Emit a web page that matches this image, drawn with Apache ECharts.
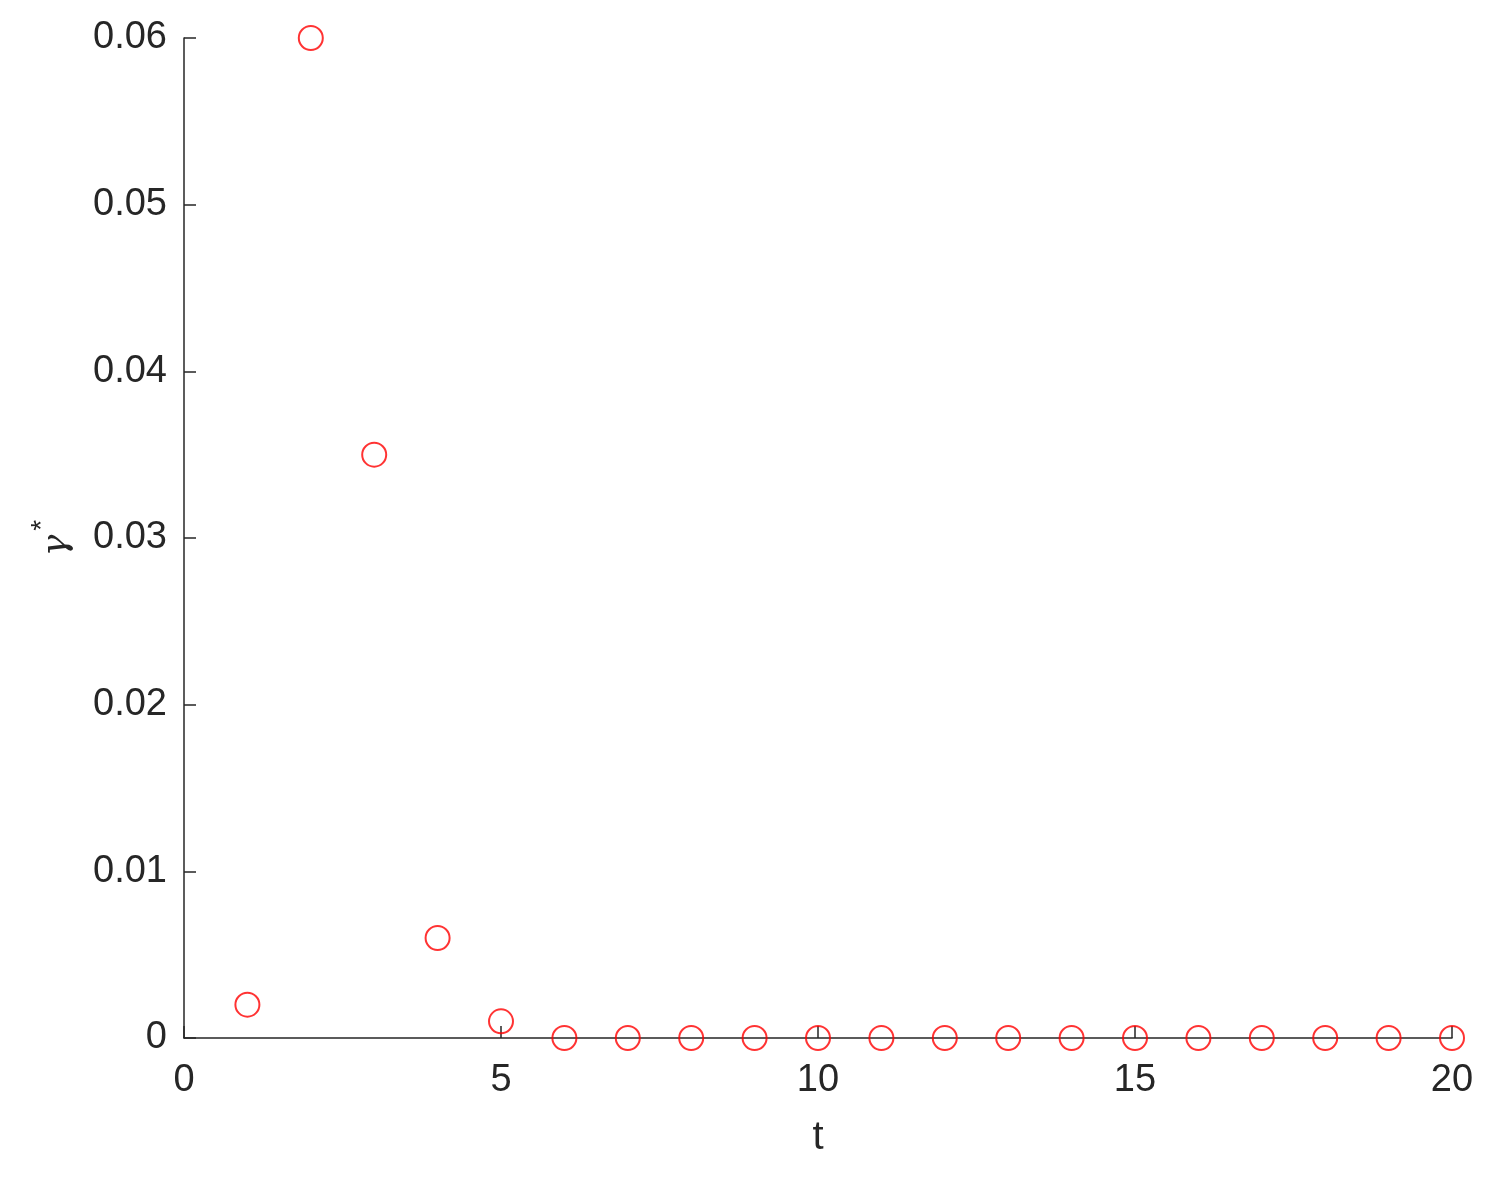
<!DOCTYPE html>
<html>
<head>
    <meta charset="utf-8">
    <title>ECharts</title>
    <script src="https://cdn.jsdelivr.net/npm/echarts@6/dist/echarts.min.js"></script>
</head>
<body style="margin:0;background:#fff;">
    <div id="main" style="width: 1497px;height:1180px;"></div>
    <script type="text/javascript">
    // 数据
    var tValues = [1, 2, 3, 4, 5, 6, 7, 8, 9, 10, 11, 12, 13, 14, 15, 16, 17, 18, 19, 20];
    var gammaValues = [0.002, 0.06, 0.035, 0.006, 0.001, 0, 0, 0, 0, 0, 0, 0, 0, 0, 0, 0, 0, 0, 0, 0];

    var data = [];
    for (var i = 0; i < tValues.length; i++) {
        data.push([tValues[i], gammaValues[i]]);
    }

    var myChart = echarts.init(document.getElementById('main'));
    var axisColor = '#262626';
    var font = 'Liberation Sans, Arial, sans-serif';

    var option = {
        animation: false,
        grid: {
            left: 184,
            right: 45,
            top: 38,
            bottom: 142
        },
        xAxis: {
            type: 'value',
            min: 0,
            max: 20,
            interval: 5,
            name: 't',
            nameLocation: 'middle',
            nameGap: 80,
            nameTextStyle: { color: axisColor, fontSize: 40, fontFamily: font },
            axisLine: { lineStyle: { color: axisColor, width: 1.5 } },
            axisTick: { inside: true, length: 12, lineStyle: { color: axisColor, width: 1.5 } },
            axisLabel: { color: axisColor, fontSize: 38, fontFamily: font, margin: 24 },
            splitLine: { show: false }
        },
        yAxis: {
            type: 'value',
            min: 0,
            max: 0.06,
            interval: 0.01,
            name: '{g|γ}{s|*}',
            nameLocation: 'middle',
            nameRotate: 90,
            nameGap: 98,
            nameTextStyle: {
                rich: {
                    g: { fontSize: 36, fontStyle: 'italic', fontFamily: 'DejaVu Serif, serif', color: axisColor },
                    s: { fontSize: 28, fontFamily: font, color: axisColor, padding: [0, 0, 30, 4] }
                }
            },
            axisLine: { show: true, lineStyle: { color: axisColor, width: 1.5 } },
            axisTick: { show: true, inside: true, length: 12, lineStyle: { color: axisColor, width: 1.5 } },
            axisLabel: {
                color: axisColor, fontSize: 38, fontFamily: font, margin: 17,
                formatter: function (v) { return v === 0 ? '0' : v.toFixed(2); }
            },
            splitLine: { show: false }
        },
        series: [{
            type: 'scatter',
            data: data,
            symbol: 'circle',
            symbolSize: 24,
            itemStyle: {
                color: 'rgba(0,0,0,0)',
                borderColor: '#ff0000',
                borderWidth: 2
            },
            z: 1
        }]
    };

    myChart.setOption(option);
    </script>
</body>
</html>
